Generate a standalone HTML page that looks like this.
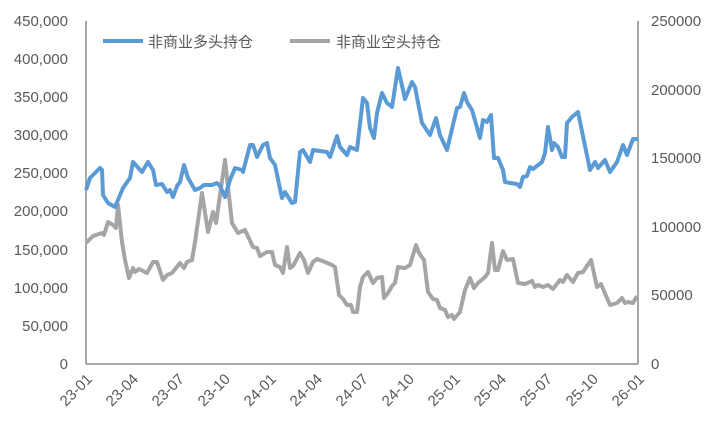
<!DOCTYPE html>
<html><head><meta charset="utf-8"><style>
body{margin:0;background:#fff}
svg{display:block;font-family:"Liberation Sans","Noto Sans CJK SC",sans-serif;fill:#595959}
</style></head><body>
<svg width="716" height="437" viewBox="0 0 716 437">
<g font-size="15" text-anchor="end">
<text x="68" y="26">450,000</text><text x="68" y="64">400,000</text><text x="68" y="102">350,000</text><text x="68" y="140">300,000</text><text x="68" y="178">250,000</text><text x="68" y="216">200,000</text><text x="68" y="255">150,000</text><text x="68" y="293">100,000</text><text x="68" y="331">50,000</text><text x="68" y="369">0</text>
</g>
<g font-size="15" text-anchor="start">
<text x="651" y="26">250000</text><text x="651" y="95">200000</text><text x="651" y="163">150000</text><text x="651" y="232">100000</text><text x="651" y="300">50000</text><text x="651" y="369">0</text>
</g>
<line x1="86" y1="21" x2="86" y2="364" stroke="#8c8c8c" stroke-width="1.5"/>
<line x1="638" y1="21" x2="638" y2="364" stroke="#8c8c8c" stroke-width="1.5"/>
<line x1="86" y1="364" x2="638" y2="364" stroke="#8c8c8c" stroke-width="1.5"/>
<g font-size="15" text-anchor="end">
<text transform="translate(93,380) rotate(-45)">23-01</text>
<text transform="translate(139,380) rotate(-45)">23-04</text>
<text transform="translate(185,380) rotate(-45)">23-07</text>
<text transform="translate(231,380) rotate(-45)">23-10</text>
<text transform="translate(277,380) rotate(-45)">24-01</text>
<text transform="translate(323,380) rotate(-45)">24-04</text>
<text transform="translate(369,380) rotate(-45)">24-07</text>
<text transform="translate(415,380) rotate(-45)">24-10</text>
<text transform="translate(461,380) rotate(-45)">25-01</text>
<text transform="translate(507,380) rotate(-45)">25-04</text>
<text transform="translate(553,380) rotate(-45)">25-07</text>
<text transform="translate(599,380) rotate(-45)">25-10</text>
<text transform="translate(645,380) rotate(-45)">26-01</text>
</g>
<polyline fill="none" stroke="#a5a5a5" stroke-width="4" stroke-linejoin="round" points="86,243 93,236 102,233 104,235 108,222 113,225 116,228 118,205 122,242 125,260 129,278 133,268 135,272 139,269 147,273 153,262 157,262 163,280 167,275 172,273 180,263 184,268 187,262 192,260 195,242 202,193 208,232 213,212 216,223 225,160 232,223 238,233 245,230 253,247 257,248 260,256 267,252 272,252 275,265 280,267 283,273 287,247 290,268 293,266 300,253 304,260 308,273 313,262 317,259 325,262 332,265 335,267 339,295 343,299 347,305 351,305 353,312 357,312 360,287 363,277 368,272 373,283 377,278 382,277 384,298 388,293 392,286 395,283 398,267 405,268 410,265 416,245 419,253 424,260 428,292 433,299 437,300 440,308 445,310 448,317 452,315 454,319 460,312 465,290 470,278 474,288 478,283 485,277 488,273 492,243 495,270 498,270 503,251 507,260 513,259 518,283 525,284 532,281 535,287 538,285 543,287 548,285 553,289 560,280 563,282 567,275 573,282 578,273 583,272 591,260 597,287 601,284 610,305 617,303 622,298 625,303 628,302 633,303 637,296"/>
<polyline fill="none" stroke="#5b9bd5" stroke-width="4" stroke-linejoin="round" points="86,190 90,178 100,168 102,170 103,195 108,203 115,207 123,188 130,178 133,162 142,172 148,162 153,170 156,185 162,184 167,192 170,190 173,197 177,186 180,182 184,165 188,178 195,190 200,188 204,185 212,185 217,183 220,186 225,197 230,180 235,168 242,170 243,172 250,145 253,145 257,157 263,145 267,143 270,158 275,165 282,198 285,192 292,203 295,202 300,152 303,150 310,162 313,150 327,152 330,157 337,136 340,147 347,155 350,147 357,150 363,98 367,103 370,128 374,138 377,113 382,93 387,103 392,107 398,68 405,99 412,82 415,87 422,123 430,135 436,118 440,135 447,150 457,108 460,107 464,93 467,102 472,110 480,138 483,120 487,122 491,115 494,158 498,158 503,170 505,182 510,183 517,184 520,187 523,177 527,176 530,167 533,169 542,162 545,153 548,127 552,150 554,143 558,147 562,157 565,157 567,123 572,117 578,112 590,170 595,162 598,168 605,160 610,172 617,162 623,145 627,155 633,139 638,139"/>
<line x1="103" y1="41" x2="143" y2="41" stroke="#5b9bd5" stroke-width="4"/>
<text x="148" y="47" font-size="15">非商业多头持仓</text>
<line x1="290" y1="41" x2="330" y2="41" stroke="#a5a5a5" stroke-width="4"/>
<text x="336" y="47" font-size="15">非商业空头持仓</text>
</svg>
</body></html>
